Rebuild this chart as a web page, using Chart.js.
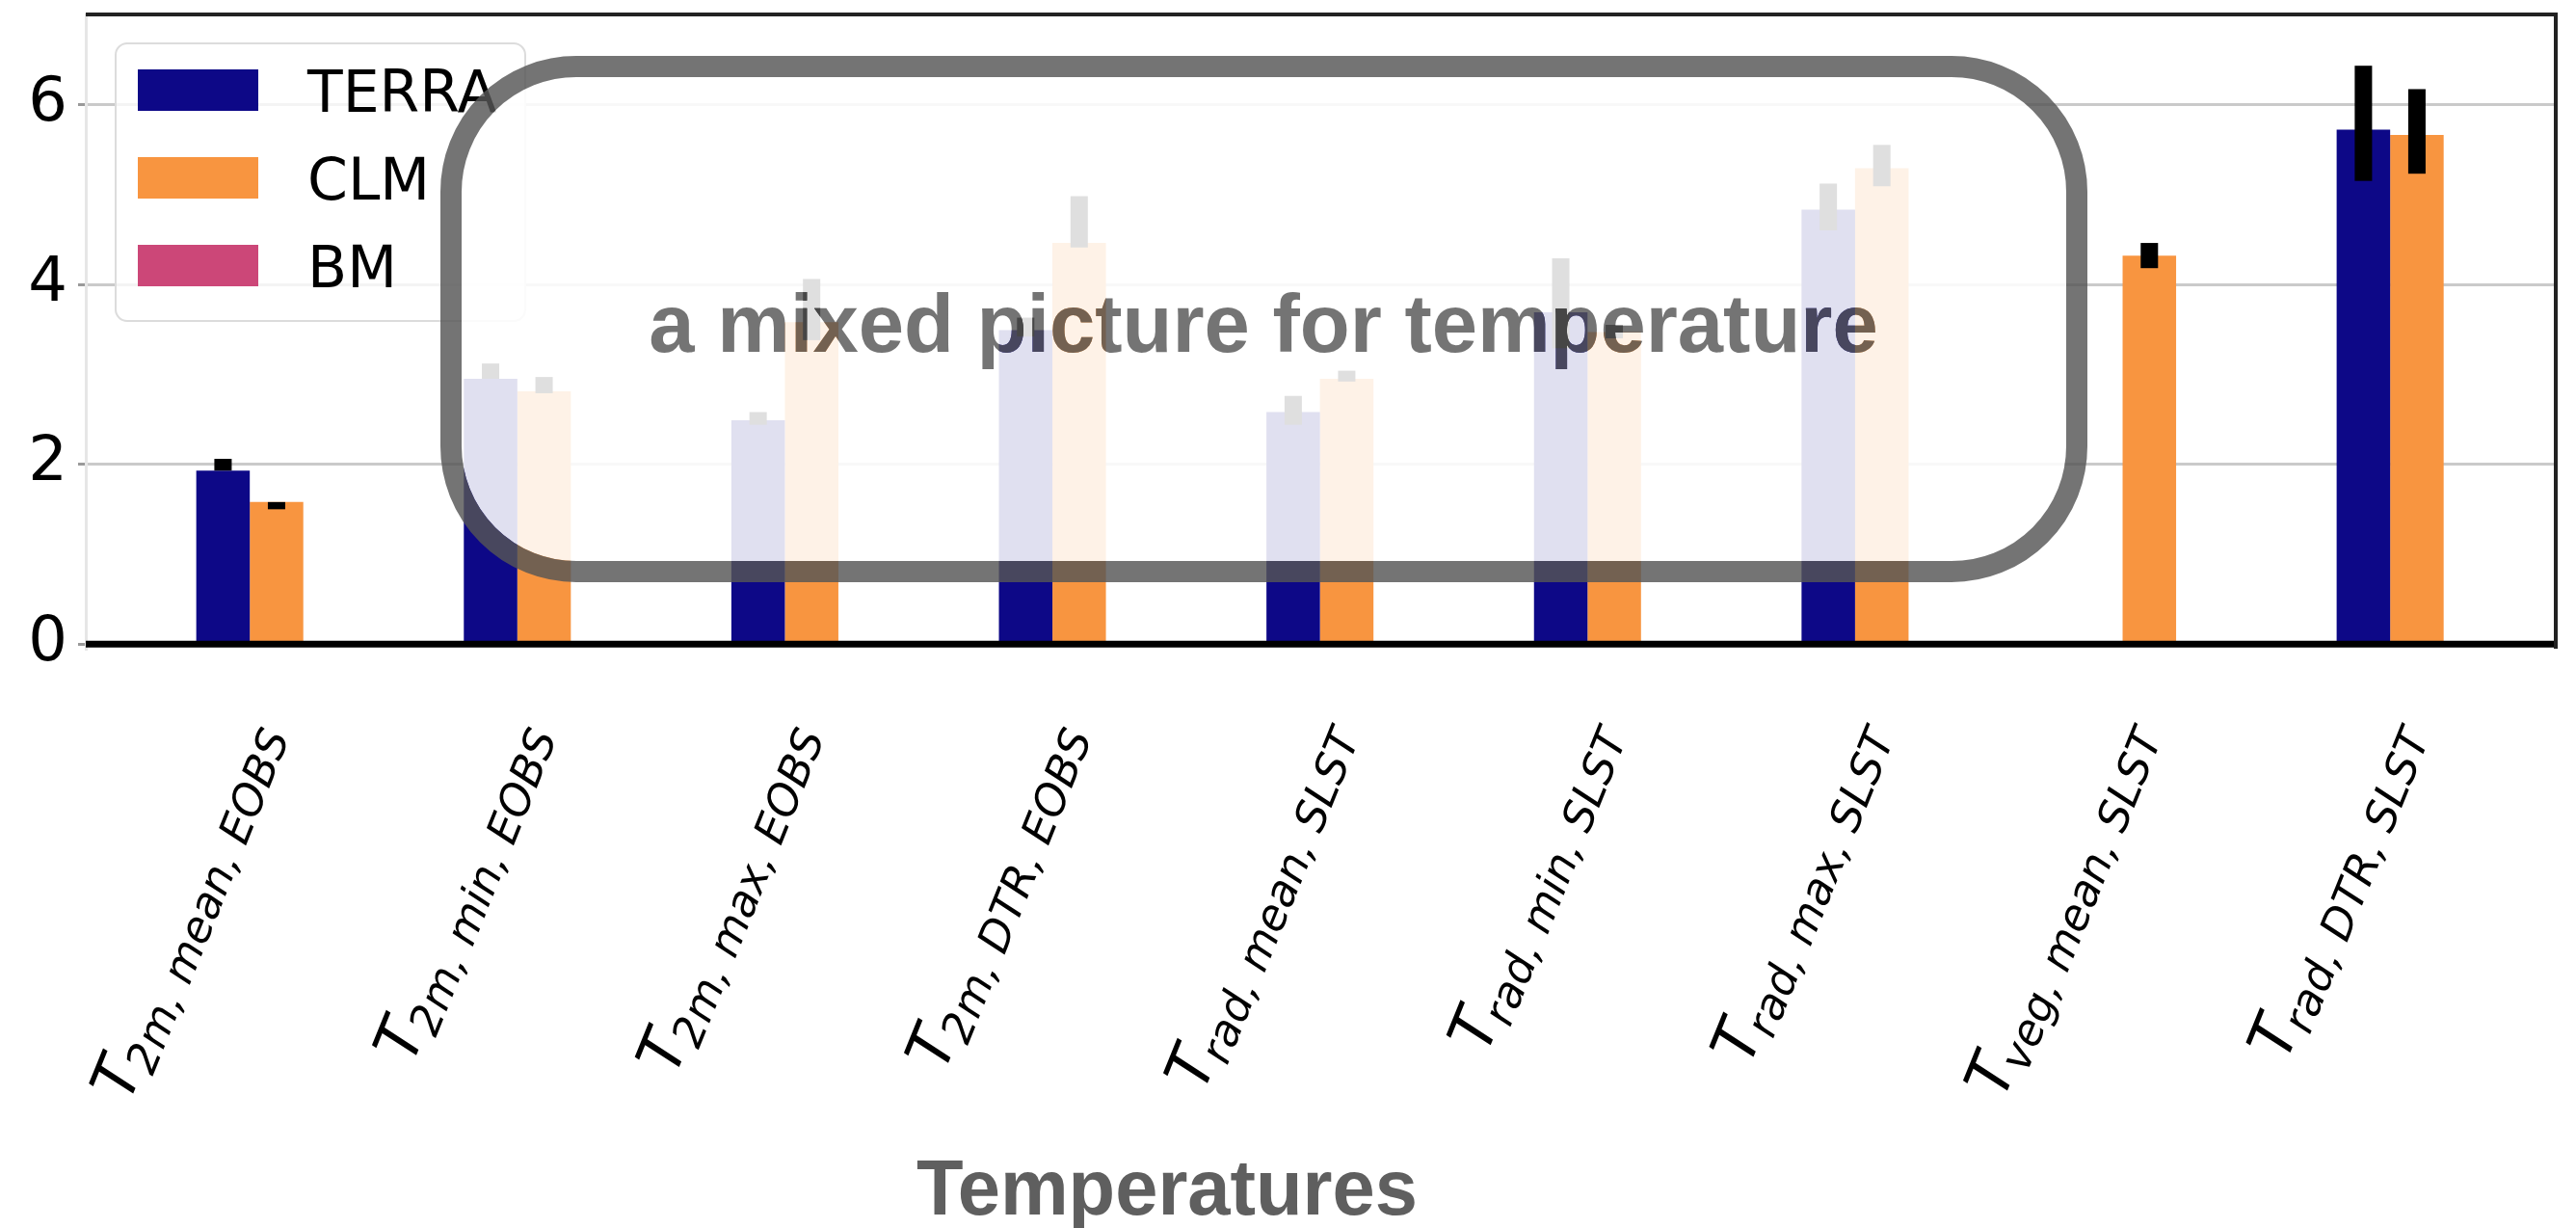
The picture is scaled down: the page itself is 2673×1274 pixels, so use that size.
<!DOCTYPE html>
<html>
<head>
<meta charset="utf-8">
<script src="https://cdn.jsdelivr.net/npm/chart.js@4.4.1/dist/chart.umd.min.js"></script>
<style>
  html, body { margin: 0; padding: 0; background: #fff; }
  canvas { display: block; }
</style>
</head>
<body>
<canvas id="chart" width="2673" height="1274"></canvas>
<script>
// subscripts of the T labels, one per category
const labelSubs = [
  '2m, mean, EOBS', '2m, min, EOBS', '2m, max, EOBS', '2m, DTR, EOBS',
  'rad, mean, SLST', 'rad, min, SLST', 'rad, max, SLST', 'veg, mean, SLST', 'rad, DTR, SLST'
];
const seriesNames = ['TERRA', 'CLM', 'BM'];

const terraValues = [1.93, 2.95, 2.49, 3.49, 2.58, 3.69, 4.83, null, 5.72];
const clmValues   = [1.58, 2.81, 3.58, 4.46, 2.95, 3.47, 5.29, 4.32, 5.66];
const bmValues    = [null, null, null, null, null, null, null, null, null];

// error bar ranges [low, high]
const terraErrLow  = [1.93, 2.95, 2.44, 3.42, 2.44, 3.29, 4.60, null, 5.15];
const terraErrHigh = [2.06, 3.12, 2.58, 3.63, 2.76, 4.29, 5.12, null, 6.43];
const clmErrLow    = [1.50, 2.79, 3.38, 4.41, 2.92, 3.40, 5.09, 4.18, 5.23];
const clmErrHigh   = [1.58, 2.97, 4.06, 4.98, 3.04, 3.55, 5.55, 4.46, 6.17];

const yTicks = [0, 2, 4, 6];

const colors = ['#0d0887', '#f89540', '#cc4778'];
const xTitle = 'Temperatures';
const overlayText = 'a mixed picture for temperature';

function toPoints(arr) {
  return arr.map((v, i) => ({ x: i, y: v }));
}

function roundRectPath(ctx, x, y, w, h, r) {
  ctx.beginPath();
  ctx.moveTo(x + r, y);
  ctx.lineTo(x + w - r, y);
  ctx.arcTo(x + w, y, x + w, y + r, r);
  ctx.lineTo(x + w, y + h - r);
  ctx.arcTo(x + w, y + h, x + w - r, y + h, r);
  ctx.lineTo(x + r, y + h);
  ctx.arcTo(x, y + h, x, y + h - r, r);
  ctx.lineTo(x, y + r);
  ctx.arcTo(x, y, x + r, y, r);
  ctx.closePath();
}

const decorPlugin = {
  id: 'decor',
  afterDatasetsDraw(chart) {
    const ctx = chart.ctx;
    const y = chart.scales.y;
    const errs = [[0, terraErrLow, terraErrHigh], [1, clmErrLow, clmErrHigh]];
    ctx.save();
    ctx.fillStyle = '#000';
    errs.forEach(([di, lo, hi]) => {
      const meta = chart.getDatasetMeta(di);
      meta.data.forEach((bar, j) => {
        if (lo[j] == null) return;
        const top = y.getPixelForValue(hi[j]);
        const bot = y.getPixelForValue(lo[j]);
        ctx.fillRect(bar.x - 9, top, 18, bot - top);
      });
    });
    ctx.restore();
  },
  afterDraw(chart) {
    const ctx = chart.ctx;
    const area = chart.chartArea;
    const xs = chart.scales.x;
    const ys = chart.scales.y;

    ctx.save();
    // zero line
    const y0 = ys.getPixelForValue(0);
    ctx.strokeStyle = '#000';
    ctx.lineWidth = 7;
    ctx.beginPath();
    ctx.moveTo(area.left, y0);
    ctx.lineTo(area.right, y0);
    ctx.stroke();

    // top and right spines
    ctx.strokeStyle = '#222';
    ctx.lineWidth = 4;
    ctx.beginPath();
    ctx.moveTo(area.left, area.top);
    ctx.lineTo(area.right, area.top);
    ctx.lineTo(area.right, area.bottom);
    ctx.stroke();

    // legend
    roundRectPath(ctx, 120, 45, 425, 288, 12);
    ctx.fillStyle = 'rgba(255,255,255,0.8)';
    ctx.fill();
    ctx.strokeStyle = '#dcdcdc';
    ctx.lineWidth = 2;
    ctx.stroke();
    chart.data.datasets.forEach((ds, k) => {
      const cy = 93 + k * 91;
      ctx.fillStyle = ds.backgroundColor;
      ctx.fillRect(143, cy - 21, 125, 43);
      ctx.fillStyle = '#000';
      ctx.font = '60px "DejaVu Sans"';
      ctx.textAlign = 'left';
      ctx.textBaseline = 'alphabetic';
      ctx.fillText(ds.label, 319, cy + 23);
    });

    // x tick labels, T with italic subscript
    labelSubs.forEach((sub, i) => {
      const px = xs.getPixelForValue(i);
      ctx.save();
      ctx.translate(px + 14, 764);
      ctx.rotate(-68 * Math.PI / 180);
      ctx.fillStyle = '#000';
      ctx.textAlign = 'right';
      ctx.textBaseline = 'alphabetic';
      ctx.font = 'italic 45px "DejaVu Sans"';
      ctx.fillText(sub, 0, 0);
      const w = ctx.measureText(sub).width;
      ctx.font = 'italic 64px "DejaVu Sans"';
      ctx.fillText('T', -w + 4, -12);
      ctx.restore();
    });

    // axis title
    ctx.fillStyle = '#5f5f5f';
    ctx.font = 'bold 82px "Liberation Sans"';
    ctx.textAlign = 'center';
    ctx.textBaseline = 'alphabetic';
    ctx.fillText(xTitle, 1211, 1260, 520);
    ctx.restore();

    // translucent callout box on top of everything
    const off = document.createElement('canvas');
    off.width = chart.canvas.width;
    off.height = chart.canvas.height;
    const o = off.getContext('2d');
    const bx = 468, by = 69, bw = 1687, bh = 524, br = 130;
    o.font = 'bold 85px "Liberation Sans"';
    o.textAlign = 'center';
    o.textBaseline = 'alphabetic';
    roundRectPath(o, bx, by, bw, bh, br);
    o.fillStyle = 'rgba(255,255,255,0.876)';
    o.fill();
    o.globalCompositeOperation = 'destination-out';
    o.lineWidth = 22;
    o.strokeStyle = '#000';
    o.stroke();
    o.fillStyle = '#000';
    o.fillText(overlayText, 1311, 365);
    o.globalCompositeOperation = 'source-over';
    o.strokeStyle = 'rgba(85,85,85,0.82)';
    o.stroke();
    o.fillStyle = 'rgba(85,85,85,0.82)';
    o.fillText(overlayText, 1311, 365);
    ctx.drawImage(off, 0, 0);
  }
};

new Chart(document.getElementById('chart'), {
  type: 'bar',
  data: {
    datasets: [
      { label: seriesNames[0], data: toPoints(terraValues), backgroundColor: colors[0] },
      { label: seriesNames[1], data: toPoints(clmValues), backgroundColor: colors[1] },
      { label: seriesNames[2], data: toPoints(bmValues), backgroundColor: colors[2] }
    ]
  },
  options: {
    responsive: false,
    animation: false,
    devicePixelRatio: 1,
    categoryPercentage: 0.6,
    barPercentage: 1.0,
    layout: { padding: { top: 15, right: 21, left: 0, bottom: 0 } },
    plugins: { legend: { display: false }, tooltip: { enabled: false } },
    scales: {
      x: {
        type: 'linear',
        min: -0.713,
        max: 8.519,
        offset: false,
        afterBuildTicks(s) { s.ticks = labelSubs.map((_, i) => ({ value: i })); },
        grid: { display: false },
        border: { display: false },
        ticks: { display: false },
        afterFit(s) { s.height = 601; s.paddingLeft = 0; s.paddingRight = 0; }
      },
      y: {
        min: -0.05,
        max: 7,
        z: 1,
        afterBuildTicks(s) { s.ticks = yTicks.map(v => ({ value: v })); },
        grid: {
          color: 'rgba(150,150,150,0.5)',
          lineWidth: 3,
          tickLength: 8,
          tickColor: '#9a9a9a'
        },
        border: { color: '#e6e6e6', width: 3 },
        ticks: {
          color: '#000',
          padding: 11,
          font: { family: 'DejaVu Sans', size: 64 }
        },
        afterFit(s) { s.width = 89; s.paddingTop = 0; s.paddingBottom = 0; }
      }
    }
  },
  plugins: [decorPlugin]
});
</script>
</body>
</html>
